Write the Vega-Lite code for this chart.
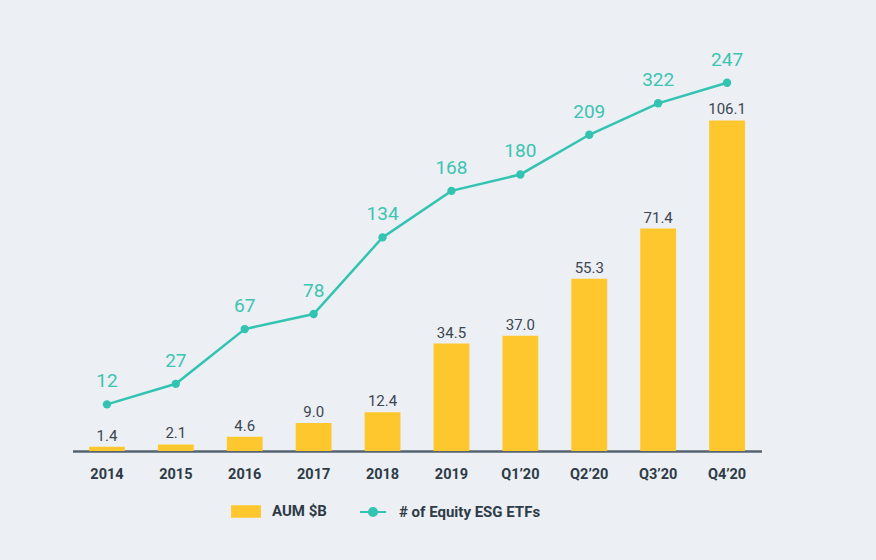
{
  "$schema": "https://vega.github.io/schema/vega-lite/v6.json",
  "width": 689,
  "height": 409,
  "autosize": {"type": "none"},
  "padding": {"left": 72.5, "top": 42, "right": 114.5, "bottom": 109},
  "background": "#eceff4",
  "config": {"view": {"stroke": null}, "font": "Roboto"},
  "data": {
    "values": [
      {"period": "2014", "aum": 1.4, "etfs": 12, "etfs_label": "12"},
      {"period": "2015", "aum": 2.1, "etfs": 27, "etfs_label": "27"},
      {"period": "2016", "aum": 4.6, "etfs": 67, "etfs_label": "67"},
      {"period": "2017", "aum": 9.0, "etfs": 78, "etfs_label": "78"},
      {"period": "2018", "aum": 12.4, "etfs": 134, "etfs_label": "134"},
      {"period": "2019", "aum": 34.5, "etfs": 168, "etfs_label": "168"},
      {"period": "Q1’20", "aum": 37.0, "etfs": 180, "etfs_label": "180"},
      {"period": "Q2’20", "aum": 55.3, "etfs": 209, "etfs_label": "209"},
      {"period": "Q3’20", "aum": 71.4, "etfs": 232, "etfs_label": "322"},
      {"period": "Q4’20", "aum": 106.1, "etfs": 247, "etfs_label": "247"}
    ]
  },
  "encoding": {
    "x": {
      "field": "period",
      "type": "nominal",
      "sort": null,
      "scale": {"paddingInner": 0.48, "paddingOuter": 0.24},
      "axis": {
        "title": null,
        "labelAngle": 0,
        "ticks": false,
        "domainColor": "#56656f",
        "domainWidth": 2.5,
        "labelFont": "Roboto",
        "labelFontWeight": "bold",
        "labelFontSize": 14.5,
        "labelColor": "#2e3b46",
        "labelPadding": 16
      }
    }
  },
  "layer": [
    {
      "encoding": {
        "y": {"field": "aum", "type": "quantitative", "scale": {"domain": [0, 131.3], "nice": false, "zero": false}, "axis": null}
      },
      "layer": [
        {
          "mark": {"type": "bar"},
          "encoding": {
            "color": {
              "datum": "AUM $B",
              "type": "nominal",
              "scale": {"domain": ["AUM $B", "# of Equity ESG ETFs"], "range": ["#ffc72e", "#33c4b1"]},
              "legend": {
                "orient": "none",
                "legendX": 157.5,
                "legendY": 453,
                "direction": "horizontal",
                "title": null,
                "symbolSize": 900,
                "labelFont": "Roboto",
                "labelFontSize": 15,
                "labelFontWeight": "bold",
                "labelColor": "#2e3b46",
                "labelOffset": 10,
                "columnPadding": 28,
                "encode": {
                  "symbols": {
                    "update": {
                      "shape": {"signal": "datum.value === 'AUM $B' ? 'M-0.93,-0.35H0.93V0.35H-0.93Z' : 'M-0.87,0H0.87M-0.27,0A0.27,0.27,0,1,0,0.27,0A0.27,0.27,0,1,0,-0.27,0Z'"},
                      "fill": {"signal": "datum.value === 'AUM $B' ? '#ffc72e' : '#33c4b1'"},
                      "stroke": {"signal": "datum.value === 'AUM $B' ? '#ffc72e' : '#33c4b1'"},
                      "strokeWidth": {"value": 2},
                      "opacity": {"value": 1},
                      "fillOpacity": {"value": 1}
                    }
                  }
                }
              }
            }
          }
        },
        {
          "mark": {"type": "text", "baseline": "alphabetic", "dy": -6, "fontSize": 15, "color": "#3b4651", "font": "Roboto"},
          "encoding": {"text": {"field": "aum", "type": "quantitative", "format": ".1f"}}
        }
      ]
    },
    {
      "encoding": {
        "y": {"field": "etfs", "type": "quantitative", "scale": {"domain": [-22.1, 276.8], "nice": false, "zero": false}, "axis": null}
      },
      "layer": [
        {
          "mark": {"type": "line", "strokeWidth": 2.5},
          "encoding": {"color": {"datum": "# of Equity ESG ETFs", "type": "nominal"}}
        },
        {
          "mark": {"type": "point", "filled": true, "size": 70, "opacity": 1},
          "encoding": {"color": {"datum": "# of Equity ESG ETFs", "type": "nominal"}}
        },
        {
          "mark": {"type": "text", "baseline": "alphabetic", "dy": -17, "fontSize": 19, "color": "#3cc4b2", "font": "Roboto"},
          "encoding": {"text": {"field": "etfs_label", "type": "nominal"}}
        }
      ]
    }
  ],
  "resolve": {"scale": {"y": "independent"}}
}
